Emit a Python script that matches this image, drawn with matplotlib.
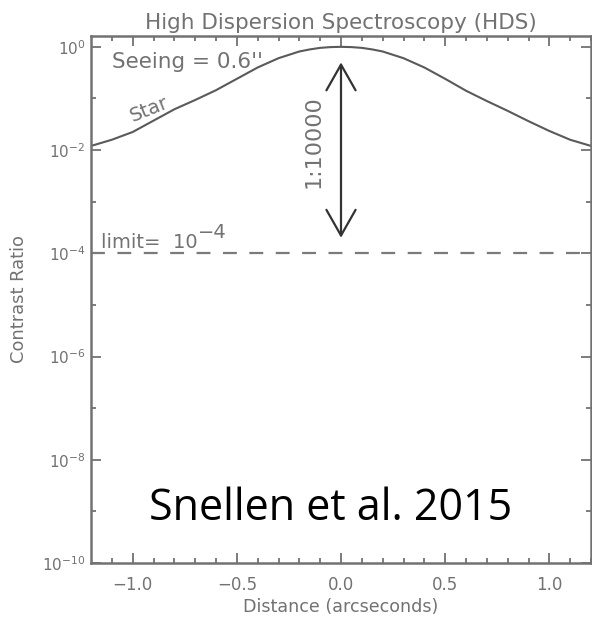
import numpy as np
import matplotlib
matplotlib.use("Agg")
import matplotlib.pyplot as plt
from matplotlib.ticker import FixedLocator, FixedFormatter

# ---- data ----
star_x = [-1.2, -1.1, -1.0, -0.9, -0.8, -0.7, -0.6, -0.5, -0.4, -0.3, -0.2, -0.15, -0.1, -0.05, 0.0,
          0.05, 0.1, 0.15, 0.2, 0.3, 0.4, 0.5, 0.6, 0.7, 0.8, 0.9, 1.0, 1.1, 1.2]
star_logy = [-1.92, -1.80, -1.65, -1.43, -1.21, -1.03, -0.84, -0.62, -0.40, -0.22, -0.09, -0.05, -0.02, -0.005, 0.0,
             -0.005, -0.02, -0.05, -0.09, -0.22, -0.40, -0.62, -0.85, -1.05, -1.24, -1.44, -1.63, -1.80, -1.92]
limit_value = 1e-4
arrow_top = 0.5
arrow_bottom = 2e-4
x_ticks = [-1.0, -0.5, 0.0, 0.5, 1.0]
x_ticklabels = ["\u22121.0", "\u22120.5", "0.0", "0.5", "1.0"]
y_ticks = [1e0, 1e-2, 1e-4, 1e-6, 1e-8, 1e-10]
y_ticklabels = [r"10$^{0}$", r"10$^{-2}$", r"10$^{-4}$", r"10$^{-6}$", r"10$^{-8}$", r"10$^{-10}$"]

plt.rcParams['font.family'] = ['DejaVu Sans']
plt.rcParams['mathtext.default'] = 'regular'
plt.rcParams['lines.scale_dashes'] = False

gray = '#727272'
fig = plt.figure(figsize=(5.92, 6.18), dpi=100)
ax = fig.add_axes([91/592, 1 - 563/618, 500/592, (563 - 36)/618])

star_y = [10 ** v for v in star_logy]
ax.plot(star_x, star_y, color='#5a5a5a', lw=1.5)
ax.axhline(limit_value, color='#7a7a7a', lw=1.6, linestyle=(0, (10, 9)))

ax.annotate('', xy=(0, arrow_top), xytext=(0, arrow_bottom),
            arrowprops=dict(arrowstyle='<->,head_length=1.85,head_width=1.05', color='#333333', lw=1.6,
                            shrinkA=0, shrinkB=0))

ax.set_yscale('log')
ax.set_xlim(-1.2, 1.2)
ax.set_ylim(1e-10, 10 ** 0.21)

ax.xaxis.set_major_locator(FixedLocator(x_ticks))
ax.xaxis.set_major_formatter(FixedFormatter(x_ticklabels))
ax.xaxis.set_minor_locator(FixedLocator(np.arange(-1.1, 1.21, 0.1)))
ax.yaxis.set_major_locator(FixedLocator(y_ticks))
ax.yaxis.set_major_formatter(FixedFormatter(y_ticklabels))
ax.yaxis.set_minor_locator(FixedLocator([1e-1, 1e-3, 1e-5, 1e-7, 1e-9]))
ax.yaxis.set_minor_formatter(FixedFormatter([]))

ax.tick_params(which='both', direction='in', top=True, right=True, colors=gray, width=1.3,
               labelcolor=gray)
ax.tick_params(axis='x', labelsize=12)
ax.tick_params(axis='y', labelsize=11)
ax.tick_params(which='major', length=7)
ax.tick_params(which='minor', length=3.5)
ax.tick_params(axis='x', pad=9)
ax.tick_params(axis='y', pad=4)
for s in ax.spines.values():
    s.set_color(gray)
    s.set_linewidth(1.8)

ax.set_title('High Dispersion Spectroscopy (HDS)', color=gray, fontsize=15.5, pad=5)
ax.set_xlabel('Distance (arcseconds)', color=gray, fontsize=12.6, labelpad=3)
ax.set_ylabel('Contrast Ratio', color=gray, fontsize=12.9, labelpad=10)

ax.text(-1.1, 10 ** -0.3, "Seeing = 0.6''", color=gray, fontsize=15.5, ha='left', va='center')
ax.text(-0.92, 10 ** -1.22, 'Star', color=gray, fontsize=14, rotation=22, ha='center', va='center')
t1 = ax.text(-1.15, 10 ** -3.8, 'limit=  10', color=gray, fontsize=14, ha='left', va='center')
ax.annotate('\u22124', xy=(1, 0.55), xycoords=t1, color=gray, fontsize=14, ha='left', va='bottom')
ax.text(-0.13, 10 ** -1.83, '1:10000', color=gray, fontsize=16, rotation=90, ha='center', va='center')

ax.text(-0.05, 10 ** -8.95, 'Snellen et al. 2015', color='black', fontsize=31,
        family=['Open Sans', 'DejaVu Sans'], ha='center', va='center')

fig.savefig('out.png', dpi=100)
